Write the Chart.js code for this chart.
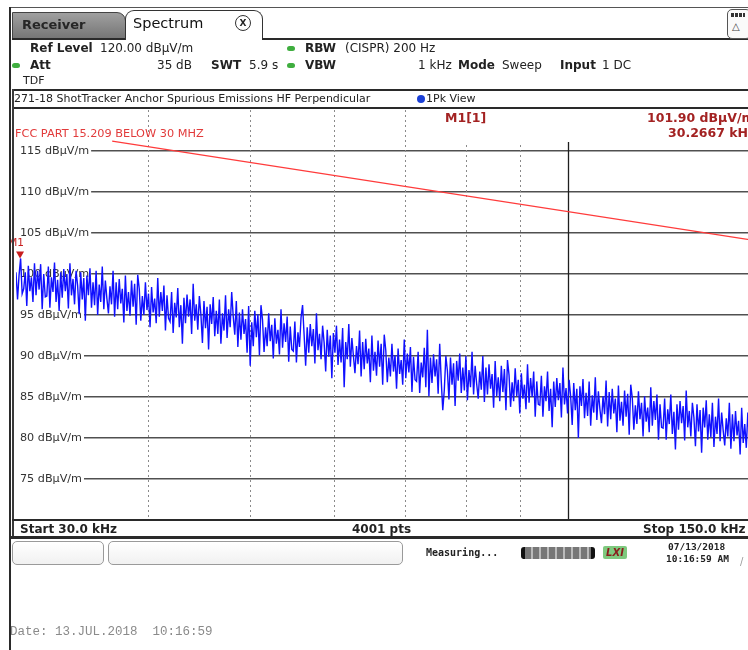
<!DOCTYPE html>
<html>
<head>
<meta charset="utf-8">
<script src="https://cdn.jsdelivr.net/npm/chart.js@4.4.1/dist/chart.umd.min.js"></script>
<style>
  html, body { margin: 0; padding: 0; background: #fff; }
  body { width: 748px; height: 650px; overflow: hidden; position: relative; font-family: "DejaVu Sans", sans-serif; color: #222; }
  .a { position: absolute; white-space: pre; line-height: 14px; }
  .b { font-weight: bold; }
  .hdr { font-size: 12px; }
  .dot { position: absolute; width: 8px; height: 5px; border-radius: 4px; background: #3fae3f; }
  .bar { position: absolute; background: #2a2a2a; }
  #plot { position: absolute; left: 0; top: 0; }
  .box { position: absolute; border: 1px solid #9a9a9a; border-radius: 5px; background: linear-gradient(#ffffff, #f1f1f1); }
  .mono { font-family: "DejaVu Sans Mono", monospace; font-weight: bold; }
</style>
</head>
<body>
<canvas id="plot" width="760" height="650"></canvas>

<!-- outer frame -->
<div class="bar" style="left:10px;top:7px;width:738px;height:1px;background:#555"></div>
<div class="bar" style="left:9px;top:7px;width:2px;height:643px"></div>

<!-- tabs -->
<div class="a" style="left:12px;top:12px;width:112px;height:26px;background:linear-gradient(#a0a0a0,#747474);border:1px solid #444;border-radius:0 9px 0 0;"></div>
<div class="a b" style="left:22px;top:18px;font-size:13px;color:#262626">Receiver</div>
<div class="a" style="left:125px;top:10px;width:136px;height:29px;background:#fff;border:1px solid #333;border-bottom:none;border-radius:9px 9px 0 0;"></div>
<div class="a" style="left:133px;top:16px;font-size:14.5px;color:#111">Spectrum</div>
<div class="a" style="left:235px;top:15px;width:14px;height:14px;border:1px solid #333;border-radius:8px;font-size:9px;line-height:14px;text-align:center;font-weight:bold">X</div>
<div class="bar" style="left:262px;top:38px;width:486px;height:1.5px"></div>
<div class="bar" style="left:12px;top:38px;width:113px;height:1.5px"></div>
<div class="a" style="left:727px;top:9px;width:22px;height:28px;border:1px solid #555;border-radius:5px;background:#fafafa"></div>
<div class="a" style="left:731px;top:13px;width:14px;height:4px;background:repeating-linear-gradient(90deg,#333 0 3px,#fff 3px 4px)"></div>
<div class="a" style="left:732px;top:20px;font-size:10px;color:#444">&#9651;</div>

<!-- settings header -->
<div class="a hdr b" style="left:30px;top:41px">Ref Level</div>
<div class="a hdr" style="left:100px;top:41px">120.00 dBµV/m</div>
<div class="dot" style="left:287px;top:46px"></div>
<div class="a hdr b" style="left:305px;top:41px">RBW</div>
<div class="a hdr" style="left:345px;top:41px">(CISPR) 200 Hz</div>

<div class="dot" style="left:12px;top:63px"></div>
<div class="a hdr b" style="left:30px;top:58px">Att</div>
<div class="a hdr" style="left:157px;top:58px">35 dB</div>
<div class="a hdr b" style="left:211px;top:58px">SWT</div>
<div class="a hdr" style="left:249px;top:58px">5.9 s</div>
<div class="dot" style="left:287px;top:63px"></div>
<div class="a hdr b" style="left:305px;top:58px">VBW</div>
<div class="a hdr" style="left:418px;top:58px">1 kHz</div>
<div class="a hdr b" style="left:458px;top:58px">Mode</div>
<div class="a hdr" style="left:502px;top:58px">Sweep</div>
<div class="a hdr b" style="left:560px;top:58px">Input</div>
<div class="a hdr" style="left:602px;top:58px">1 DC</div>
<div class="a" style="left:23px;top:74px;font-size:11px">TDF</div>

<!-- trace title bar -->
<div class="bar" style="left:12px;top:89px;width:736px;height:1.5px"></div>
<div class="a" style="left:14px;top:92px;font-size:11px">271-18 ShotTracker Anchor Spurious Emissions HF Perpendicular</div>
<div class="a" style="left:417px;top:95px;width:8px;height:8px;border-radius:4px;background:#1a3fd6"></div>
<div class="a" style="left:426px;top:92px;font-size:11px">1Pk View</div>
<div class="bar" style="left:12px;top:107px;width:736px;height:2px"></div>
<div class="bar" style="left:12px;top:89px;width:2px;height:449px;background:#3a3a3a"></div>

<!-- sweep info bar -->
<div class="bar" style="left:12px;top:519px;width:736px;height:1.5px"></div>
<div class="a hdr b" style="left:20px;top:522px">Start 30.0 kHz</div>
<div class="a hdr b" style="left:352px;top:522px">4001 pts</div>
<div class="a hdr b" style="left:643px;top:522px">Stop 150.0 kHz</div>
<div class="bar" style="left:10px;top:536px;width:738px;height:3px"></div>

<!-- status bar -->
<div class="box" style="left:12px;top:541px;width:90px;height:22px"></div>
<div class="box" style="left:108px;top:541px;width:293px;height:22px"></div>
<div class="a mono" style="left:426px;top:546px;font-size:10px">Measuring...</div>
<div class="a" style="left:521px;top:547px;width:74px;height:12px;border-radius:3px;background:repeating-linear-gradient(90deg,#777 0 6px,#bbb 6px 8px);border-left:4px solid #111;border-right:4px solid #111;box-sizing:border-box"></div>
<div class="a" style="left:603px;top:546px;width:24px;height:13px;background:#7ec97e;border-radius:2px;font-size:10px;line-height:13px;color:#8a1c1c;font-weight:bold;font-style:italic;text-align:center">LXI</div>
<div class="a mono" style="left:668px;top:541px;font-size:9.5px;line-height:12px">07/13/2018</div>
<div class="a mono" style="left:666px;top:553px;font-size:9.5px;line-height:12px">10:16:59 AM</div>
<div class="a" style="left:740px;top:555px;font-size:10px;color:#999">/</div>

<div class="a" style="left:10px;top:625px;font-family:'Liberation Mono',monospace;font-size:12.5px;color:#8a8a8a">Date: 13.JUL.2018  10:16:59</div>

<script>
// sweep settings
const startKHz = 30;
const stopKHz = 150;

// level axis (dBuV/m)
const levelMin = 70;
const levelMax = 120;
const levelStep = 5;

// frequency grid (kHz): dotted lines and the solid decade line
const gridKHz = [40, 50, 60, 70, 80, 90];
const decadeKHz = [100];

// FCC 15.209 limit line
const limitKHz = [37, 150];
const limitDb = [116.2, 104.1];

// marker M1
const markerKHz = 30.2667;
const markerDb = 101.90;

// 1Pk trace, sweep points from start to stop
const traceDb = [
  100.2, 96.9, 99.9, 101.9, 97.6, 98.2, 100.2, 96.1, 101.0, 97.9, 99.6, 96.6, 101.3, 97.4, 100.4, 98.1, 101.2, 95.7, 100.0, 97.2,
  97.3, 100.9, 95.9, 99.6, 97.8, 101.4, 96.6, 99.3, 95.5, 100.2, 97.1, 100.6, 97.9, 100.0, 95.8, 101.3, 97.4, 99.4, 96.3, 100.4,
  98.6, 95.1, 100.2, 96.9, 99.5, 94.3, 99.8, 97.4, 100.7, 95.9, 99.0, 96.2, 100.4, 95.0, 98.7, 96.6, 100.9, 95.7, 99.2, 97.0,
  95.2, 98.5, 96.3, 100.4, 94.8, 99.0, 95.7, 99.4, 96.4, 98.2, 94.1, 99.8, 95.5, 97.8, 94.9, 99.2, 96.0, 98.8, 93.8, 99.9,
  98.2, 94.3, 97.3, 95.0, 99.0, 95.6, 97.6, 93.5, 98.4, 95.3, 97.0, 94.0, 99.5, 94.8, 97.8, 95.5, 98.6, 93.1, 97.4, 94.6,
  94.2, 97.8, 92.8, 96.5, 94.7, 98.3, 93.5, 96.2, 91.5, 97.1, 94.0, 97.5, 94.8, 96.9, 92.7, 98.8, 94.3, 96.3, 93.2, 97.3,
  95.1, 91.6, 96.7, 93.4, 96.0, 90.8, 96.3, 93.9, 97.2, 92.4, 95.5, 92.7, 96.9, 91.5, 95.2, 93.1, 97.4, 92.2, 95.7, 93.5,
  97.8, 94.8, 92.6, 96.7, 91.1, 95.3, 92.0, 95.7, 92.7, 94.5, 90.4, 96.1, 88.8, 94.1, 91.2, 95.5, 92.3, 95.1, 90.1, 96.2,
  94.4, 90.5, 93.5, 91.2, 95.2, 91.8, 93.8, 89.7, 94.6, 91.5, 93.2, 90.2, 95.7, 91.0, 94.0, 91.7, 94.8, 89.3, 93.6, 90.8,
  90.6, 94.2, 89.2, 92.9, 91.1, 94.7, 96.2, 92.6, 88.8, 93.5, 90.4, 93.9, 91.2, 93.3, 89.1, 95.2, 90.7, 92.7, 89.6, 93.7,
  91.6, 88.1, 93.2, 89.9, 92.5, 87.3, 92.8, 90.4, 93.7, 88.9, 92.0, 89.2, 93.4, 86.2, 91.7, 89.6, 93.9, 88.7, 92.2, 90.0,
  87.9, 91.2, 89.0, 93.1, 87.5, 91.7, 88.4, 92.1, 89.1, 90.9, 86.8, 92.5, 88.2, 90.5, 87.6, 91.9, 88.7, 91.5, 86.5, 92.6,
  90.7, 86.8, 89.8, 87.5, 91.5, 88.1, 90.1, 86.0, 90.9, 87.8, 89.5, 86.5, 92.0, 87.3, 90.3, 88.0, 91.1, 85.6, 89.9, 87.1,
  86.9, 90.5, 85.5, 89.2, 87.4, 91.0, 86.2, 93.2, 85.1, 89.8, 86.7, 90.2, 87.5, 89.6, 85.4, 91.5, 87.0, 83.4, 85.9, 90.0,
  88.2, 84.7, 89.8, 86.5, 89.1, 83.9, 89.4, 87.0, 90.3, 85.5, 88.6, 85.8, 90.0, 84.6, 88.3, 86.2, 90.5, 85.3, 88.8, 86.6,
  84.8, 88.1, 85.9, 90.0, 84.4, 88.6, 85.3, 89.0, 86.0, 87.8, 83.7, 89.4, 85.1, 87.4, 84.5, 88.8, 85.6, 88.4, 83.4, 89.5,
  87.7, 83.8, 86.8, 84.5, 88.5, 85.1, 87.1, 83.0, 87.9, 84.8, 86.5, 83.5, 89.0, 84.3, 87.3, 85.0, 88.1, 82.6, 86.9, 84.1,
  84.0, 87.6, 82.6, 86.3, 84.5, 88.1, 83.3, 86.0, 81.3, 86.9, 83.8, 87.3, 84.6, 86.7, 82.5, 88.6, 84.1, 86.1, 83.0, 87.1,
  85.1, 81.6, 86.7, 83.4, 86.0, 80.0, 86.3, 83.9, 87.2, 82.4, 85.5, 82.7, 86.9, 81.5, 85.2, 83.1, 87.4, 82.2, 85.7, 83.5,
  81.8, 85.1, 82.9, 87.0, 81.4, 85.6, 82.3, 86.0, 83.0, 84.8, 80.7, 86.4, 82.1, 84.4, 81.5, 85.8, 82.6, 85.4, 80.4, 86.5,
  84.9, 81.0, 84.0, 81.7, 85.7, 82.3, 84.3, 80.2, 85.1, 82.0, 83.7, 80.7, 86.2, 81.5, 84.5, 82.2, 85.3, 79.8, 84.1, 81.3,
  81.2, 84.8, 79.8, 83.5, 81.7, 85.3, 80.5, 83.2, 78.6, 84.1, 81.0, 84.5, 81.8, 83.9, 79.7, 85.8, 81.3, 83.3, 80.2, 84.3,
  82.5, 79.0, 84.1, 80.8, 83.4, 78.2, 83.7, 81.3, 84.6, 79.8, 82.9, 80.1, 84.3, 78.9, 82.6, 80.5, 84.8, 79.6, 83.1, 80.9,
  79.1, 82.4, 80.2, 84.3, 78.7, 82.9, 79.6, 83.3, 80.3, 82.1, 78.0, 83.7, 79.4, 81.7, 78.8, 83.1, 79.9, 82.7, 77.7, 83.8
];

// sweep points sit evenly across the log frequency axis
const traceKHz = traceDb.map((_, i) => startKHz * Math.pow(stopKHz / startKHz, i / (traceDb.length - 1)));

const analyzerGrid = {
  id: 'analyzerGrid',
  beforeDatasetsDraw(chart) {
    const { ctx, chartArea: area, scales: { x } } = chart;
    ctx.save();
    // frequency grid
    ctx.lineWidth = 1;
    ctx.strokeStyle = '#8a8a8a';
    ctx.setLineDash([2, 3]);
    gridKHz.forEach(f => {
      const px = Math.round(x.getPixelForValue(f)) + 0.5;
      ctx.beginPath();
      ctx.moveTo(px, area.top);
      ctx.lineTo(px, area.bottom);
      ctx.stroke();
    });
    ctx.setLineDash([]);
    ctx.strokeStyle = '#1e1e1e';
    ctx.lineWidth = 1.3;
    decadeKHz.forEach(f => {
      const px = Math.round(x.getPixelForValue(f)) + 0.5;
      ctx.beginPath();
      ctx.moveTo(px, area.top);
      ctx.lineTo(px, area.bottom);
      ctx.stroke();
    });

    // marker readout panel
    ctx.fillStyle = '#fff';
    ctx.fillRect(410, area.top, area.right - 410, 32);
    ctx.fillStyle = '#a32222';
    ctx.font = 'bold 12.5px "DejaVu Sans"';
    ctx.textBaseline = 'middle';
    ctx.fillText('M1[1]', 445, 119);
    ctx.fillText(markerDb.toFixed(2) + ' dBµV/m', 647, 119);
    ctx.fillText(markerKHz.toFixed(4) + ' kHz', 668, 134);
    ctx.restore();
  },
  afterDatasetsDraw(chart) {
    const { ctx, scales: { x, y } } = chart;
    ctx.save();
    // marker symbol
    const mx = x.getPixelForValue(markerKHz);
    const my = y.getPixelForValue(markerDb);
    ctx.fillStyle = '#c81e1e';
    ctx.beginPath();
    ctx.moveTo(mx - 4, my - 7);
    ctx.lineTo(mx + 4, my - 7);
    ctx.lineTo(mx, my);
    ctx.closePath();
    ctx.fill();
    ctx.font = '10.5px "DejaVu Sans"';
    ctx.textAlign = 'center';
    ctx.textBaseline = 'middle';
    ctx.fillText('M1', mx - 4, my - 15);

    // limit line label
    ctx.fillStyle = '#e23b3b';
    ctx.font = '11.3px "DejaVu Sans"';
    ctx.textAlign = 'left';
    ctx.fillText('FCC PART 15.209 BELOW 30 MHZ', 15, 134);
    ctx.restore();
  }
};

new Chart(document.getElementById('plot'), {
  type: 'line',
  data: {
    datasets: [
      {
        label: 'FCC PART 15.209 BELOW 30 MHZ',
        data: limitKHz.map((f, i) => ({ x: f, y: limitDb[i] })),
        borderColor: '#ff3b3b',
        borderWidth: 1.2,
        pointRadius: 0,
        order: 0
      },
      {
        label: '1Pk View',
        data: traceKHz.map((f, i) => ({ x: f, y: traceDb[i] })),
        borderColor: '#1010ff',
        borderWidth: 1.4,
        pointRadius: 0,
        tension: 0,
        order: 1
      }
    ]
  },
  options: {
    responsive: false,
    animation: false,
    layout: { padding: { left: 16, top: 110, right: 6, bottom: 130 } },
    plugins: { legend: { display: false }, tooltip: { enabled: false } },
    scales: {
      x: { type: 'logarithmic', min: startKHz, max: stopKHz, display: false },
      y: {
        type: 'linear',
        min: levelMin,
        max: levelMax,
        afterFit(scale) { scale.width = 0; },
        border: { display: false },
        grid: { drawTicks: false, color: '#505050', lineWidth: 1.5 },
        ticks: {
          stepSize: levelStep,
          mirror: true,
          padding: 4,
          color: '#333',
          font: { family: 'DejaVu Sans', size: 11.2 },
          showLabelBackdrop: true,
          backdropColor: '#fff',
          backdropPadding: { top: 0, bottom: 0, left: 6, right: 2 },
          callback: v => (v <= levelMin || v >= levelMax) ? null : v + ' dBµV/m'
        }
      }
    }
  },
  plugins: [analyzerGrid]
});
</script>
</body>
</html>
